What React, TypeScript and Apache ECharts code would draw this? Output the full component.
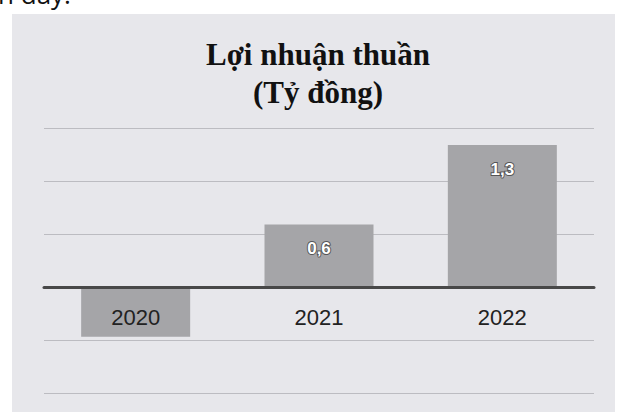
import React, { useEffect, useRef } from "react";
import * as echarts from "echarts";

const categories = ["2020", "2021", "2022"];
const profitValues = [-0.47, 0.59, 1.34];
const titleLines = ["Lợi nhuận thuần", "(Tỷ đồng)"];
const topFragment = "n đây.";

const Y_MIN = -1;
const Y_MAX = 1.5;
const GRID_TOP = 128;
const GRID_BOTTOM = 19;
const CHART_H = 412;

export default function App() {
  const ref = useRef<HTMLDivElement>(null);
  useEffect(() => {
    if (!ref.current) return;
    const chart = echarts.init(ref.current, undefined, { renderer: "svg" });
    const fmt = (v: number) => v.toFixed(1).replace(".", ",");
    const plotH = CHART_H - GRID_TOP - GRID_BOTTOM;
    const zeroOffset = (plotH * (0 - Y_MIN)) / (Y_MAX - Y_MIN);
    chart.setOption({
      animation: false,
      backgroundColor: "#ffffff",
      graphic: [
        {
          type: "rect",
          z: -10,
          silent: true,
          shape: { x: 12, y: 14, width: 603, height: 398 },
          style: { fill: "#e7e7eb" },
        },
        {
          type: "text",
          x: -2,
          y: 7,
          style: {
            text: topFragment,
            fontFamily: "Open Sans",
            fontSize: 26,
            fill: "#111",
            textVerticalAlign: "bottom",
          },
        },
        {
          type: "text",
          x: 318,
          y: 54,
          style: {
            text: titleLines[0],
            fontFamily: "Liberation Serif",
            fontWeight: "bold",
            fontSize: 31,
            fill: "#111",
            textAlign: "center",
            textVerticalAlign: "middle",
          },
        },
        {
          type: "text",
          x: 318,
          y: 92,
          style: {
            text: titleLines[1],
            fontFamily: "Liberation Serif",
            fontWeight: "bold",
            fontSize: 31,
            fill: "#111",
            textAlign: "center",
            textVerticalAlign: "middle",
          },
        },
      ],
      grid: {
        left: 44,
        right: 31,
        top: GRID_TOP,
        bottom: GRID_BOTTOM,
        outerBoundsMode: "none",
        containLabel: false,
      },
      xAxis: {
        type: "category",
        data: categories,
        offset: -zeroOffset,
        axisLine: { onZero: false, lineStyle: { color: "#484848", width: 3 } },
        axisTick: { show: false },
        axisLabel: {
          margin: 19,
          fontFamily: "Liberation Sans",
          fontSize: 22,
          color: "#222",
        },
        z: 5,
      },
      yAxis: {
        type: "value",
        min: Y_MIN,
        max: Y_MAX,
        interval: 0.5,
        axisLabel: { show: false },
        axisLine: { show: false },
        axisTick: { show: false },
        splitLine: { lineStyle: { color: "#bcbcc1", width: 1 } },
      },
      series: [
        {
          type: "bar",
          barWidth: 109,
          itemStyle: { color: "#a5a5a8" },
          data: profitValues.map((v) => ({
            value: v,
            label: { show: v > 0 },
          })),
          label: {
            position: "insideTop",
            distance: 16,
            formatter: (p: any) => fmt(p.value),
            fontFamily: "Liberation Sans",
            fontWeight: "bold",
            fontSize: 17,
            color: "#ffffff",
            textBorderColor: "rgba(50,50,50,0.7)",
            textBorderWidth: 2,
          },
        },
      ],
    });
    return () => chart.dispose();
  }, []);
  return (
    <div
      ref={ref}
      style={{ position: "fixed", left: 0, top: 0, width: 625, height: 412 }}
    />
  );
}
